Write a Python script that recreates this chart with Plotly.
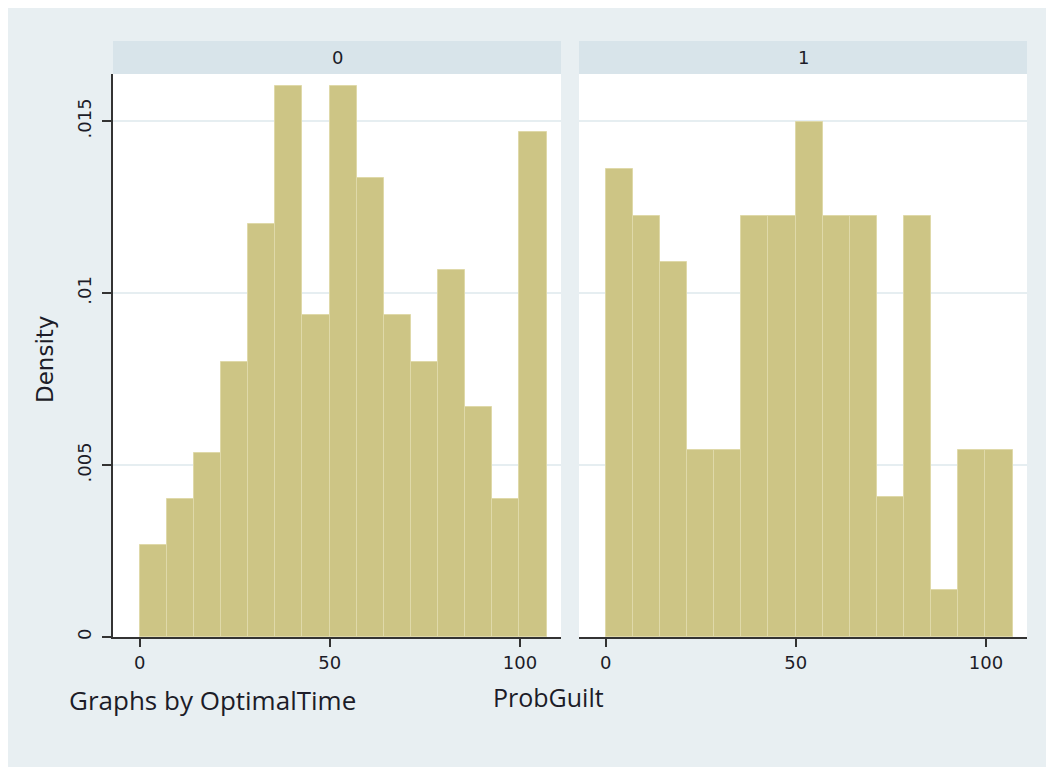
import plotly.graph_objects as go
from plotly.subplots import make_subplots

# ---- data ----
panel_labels = ["0", "1"]
bin_start = 0.0
bin_width = 7.1333
density_time0 = [0.00267, 0.00401, 0.00534, 0.00801, 0.01202, 0.01602, 0.00935, 0.01602,
                 0.01335, 0.00935, 0.00801, 0.01068, 0.00668, 0.00401, 0.01469]
density_time1 = [0.01361, 0.01225, 0.01089, 0.00544, 0.00544, 0.01225, 0.01225, 0.01497,
                 0.01225, 0.01225, 0.00408, 0.01225, 0.00136, 0.00544, 0.00544]
x_tickvals = [0, 50, 100]
y_tickvals = [0, 0.005, 0.01, 0.015]
y_ticktext = ["0", ".005", ".01", ".015"]

centers0 = [bin_start + bin_width * (i + 0.5) for i in range(len(density_time0))]
centers1 = [bin_start + bin_width * (i + 0.5) for i in range(len(density_time1))]

# page body has an 8px margin, so the figure is sized to fit the window
OFF = 8
W, H = 1046, 759
L, R, T, B = 105, 27, 66, 130
pw = W - L - R
ph = H - T - B

BG = "#e8eff2"
STRIP = "#d8e4ea"
BAR = "#cdc585"
BAR_LINE = "#dfd9a9"
GRID = "#e6eef1"
TXT = "#1c1c28"
AX = "#333333"

fig = make_subplots(rows=1, cols=2, shared_yaxes=True, horizontal_spacing=18 / pw)

fig.add_trace(go.Bar(x=centers0, y=density_time0, width=bin_width,
                     marker=dict(color=BAR, line=dict(color=BAR_LINE, width=1)),
                     showlegend=False), row=1, col=1)
fig.add_trace(go.Bar(x=centers1, y=density_time1, width=bin_width,
                     marker=dict(color=BAR, line=dict(color=BAR_LINE, width=1)),
                     showlegend=False), row=1, col=2)

xr = [-7.0, 110.8]
yr = [0, 0.01637]
tickfont = dict(family="DejaVu Sans", size=18, color=TXT)

for xa in ["xaxis", "xaxis2"]:
    fig.layout[xa].update(range=xr, tickvals=x_tickvals, showline=True, linecolor=AX,
                          linewidth=2, ticks="outside", ticklen=8, tickwidth=2, tickcolor=AX,
                          showgrid=False, zeroline=False, tickfont=tickfont)
fig.layout.xaxis.domain = [0, 448 / pw]
fig.layout.xaxis2.domain = [466 / pw, 1]

fig.layout.yaxis.update(range=yr, tickvals=y_tickvals, ticktext=y_ticktext, tickangle=-90,
                        showline=True, linecolor=AX, linewidth=2, ticks="outside", ticklen=9,
                        tickwidth=2, tickcolor=AX, showgrid=True, gridcolor=GRID, gridwidth=1.5,
                        zeroline=False, tickfont=tickfont, ticklabelstandoff=4)
fig.layout.yaxis2.update(range=yr, tickvals=y_tickvals, showline=False, ticks="",
                         showticklabels=False, showgrid=True, gridcolor=GRID, gridwidth=1.5,
                         zeroline=False)


def px_x(p):  # screenshot x -> paper
    return (p - OFF - L) / pw


def px_y(p):  # screenshot y -> paper
    return (H - B - (p - OFF)) / ph


shapes = []
annotations = []
strip_h = 33 / ph
for i, xd in enumerate(["x domain", "x2 domain"]):
    shapes.append(dict(type="rect", xref=xd, yref="paper", x0=0, x1=1, y0=1, y1=1 + strip_h,
                       fillcolor=STRIP, line=dict(width=0), layer="below"))
    annotations.append(dict(text=panel_labels[i], xref=xd, yref="paper", x=0.5,
                            y=1 + strip_h / 2, xanchor="center", yanchor="middle",
                            showarrow=False,
                            font=dict(family="DejaVu Sans", size=18, color=TXT)))

annotations.append(dict(text="Density", xref="paper", yref="paper", x=px_x(45), y=px_y(360),
                        xanchor="center", yanchor="middle", textangle=-90, showarrow=False,
                        font=dict(family="DejaVu Sans", size=23, color=TXT)))
annotations.append(dict(text="ProbGuilt", xref="paper", yref="paper", x=px_x(548), y=px_y(697),
                        xanchor="center", yanchor="middle", showarrow=False,
                        font=dict(family="Open Sans", size=25, color=TXT)))
annotations.append(dict(text="Graphs by OptimalTime", xref="paper", yref="paper",
                        x=px_x(67), y=px_y(700), xanchor="left", yanchor="middle",
                        showarrow=False,
                        font=dict(family="Open Sans", size=26, color=TXT)))

fig.update_layout(width=W, height=H, margin=dict(l=L, r=R, t=T, b=B),
                  paper_bgcolor=BG, plot_bgcolor="white", bargap=0,
                  shapes=shapes, annotations=annotations, showlegend=False)

fig.write_html("out.html")
